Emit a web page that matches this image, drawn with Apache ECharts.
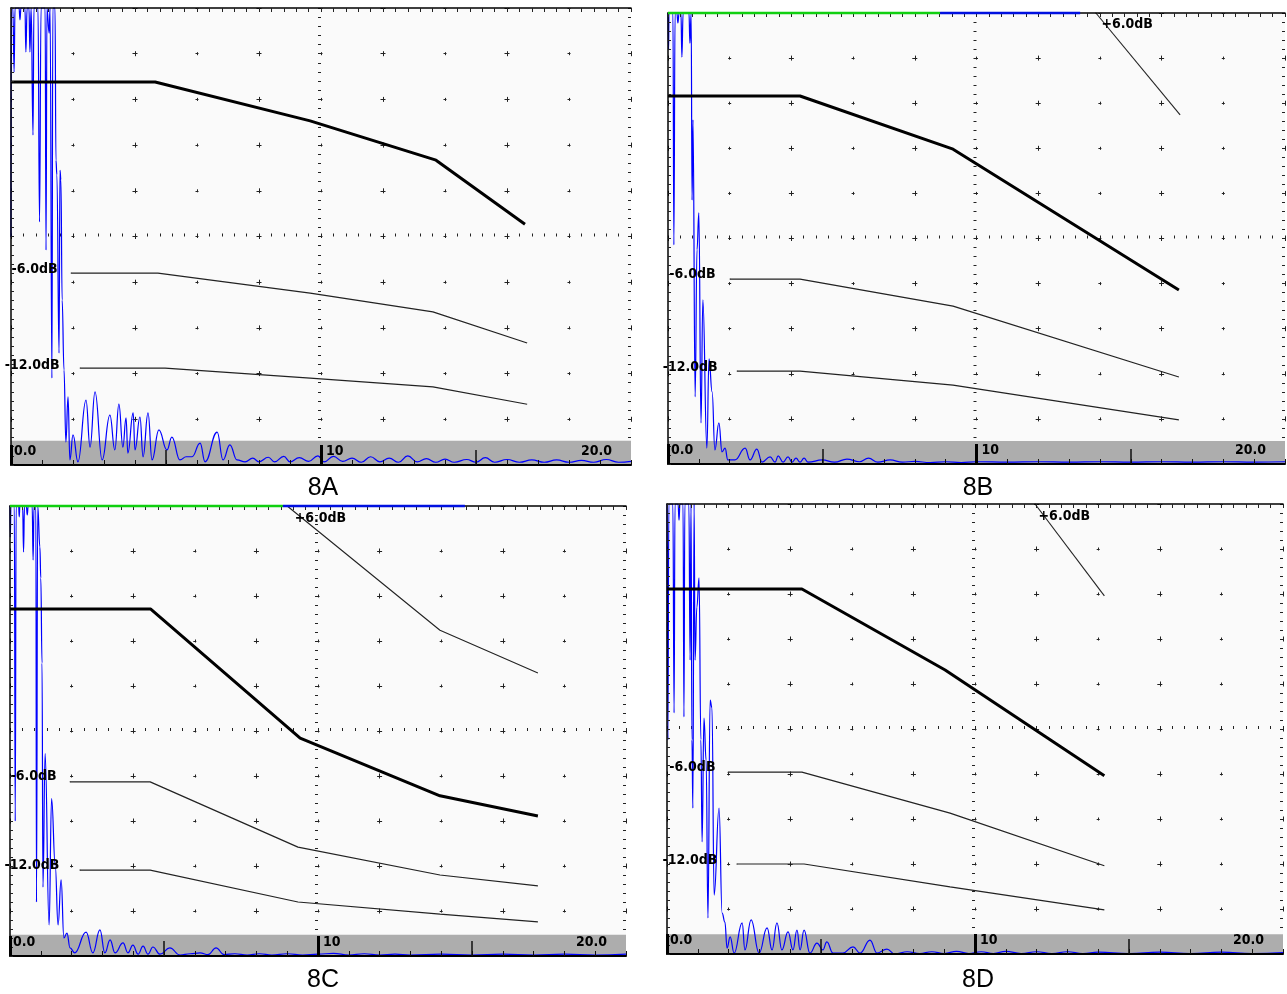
<!DOCTYPE html>
<html><head><meta charset="utf-8">
<script src="https://cdn.jsdelivr.net/npm/echarts@6/dist/echarts.min.js"></script>
<style>html,body{margin:0;padding:0;background:#fff}#c{width:1287px;height:994px}</style>
</head><body><div id="c"></div>
<script>
// ---------- DATA ----------
const panelNames = ['8A', '8B', '8C', '8D'];
const xTickLabels = ['0.0', '10', '20.0'];
const dbLabels = ['-6.0dB', '-12.0dB', '+6.0dB'];

// A-scan waveforms: [depth, amplitude %]
const waveA = [[0,49.9],[0.01,100],[0.06,100],[0.1,86],[0.13,100],[0.26,100],[0.29,97.4],[0.32,100],[0.45,100],[0.48,90.4],[0.52,100],[0.58,100],[0.61,90.4],[0.65,100],[0.71,72.2],[0.74,100],[0.87,100],[0.92,53.2],[0.97,100],[1.1,100],[1.13,47],[1.16,100],[1.23,94.5],[1.26,100],[1.32,19],[1.35,100],[1.42,100],[1.45,66.7],[1.48,63.5],[1.55,24.5],[1.58,64.5],[1.61,62.4],[1.65,36.1],[1.71,20.8],[1.77,5.0],[1.84,14.9],[1.9,1.1],[2.0,6.6],[2.16,0.7],[2.42,14.2],[2.55,3.9],[2.71,16.0],[2.94,1.1],[3.19,10.9],[3.35,3.3],[3.48,13.3],[3.61,3.9],[3.71,10.3],[3.77,2.6],[3.94,11.4],[4.0,3.3],[4.16,10.5],[4.26,1.8],[4.42,11.4],[4.55,1.1],[4.77,7.7],[5.03,3.3],[5.19,6.1],[5.45,1.1],[5.65,1.8],[5.84,1.8],[6.1,4.8],[6.26,0.7],[6.65,7.2],[6.84,1.1],[7.06,4.4],[7.29,1.1],[7.55,0.7],[7.8,1.5],[8.0,0.7],[8.3,1.7],[8.5,0.7],[8.8,1.9],[9.0,0.7],[9.3,1.6],[9.6,0.8],[9.9,2.0],[10.1,0.7],[10.4,1.9],[10.7,0.8],[11.0,1.5],[11.3,0.6],[11.6,1.8],[11.9,0.7],[12.2,1.5],[12.5,0.6],[12.8,2.0],[13.1,0.7],[13.4,1.4],[13.7,0.6],[14.0,1.3],[14.3,0.6],[14.7,1.2],[15.0,0.6],[15.3,1.6],[15.6,0.6],[16.0,1.2],[16.4,0.6],[16.8,1.1],[17.2,0.6],[17.6,1.1],[18.0,0.6],[18.4,1.0],[18.8,0.6],[19.2,1.2],[19.6,0.6],[20,0.8]];
const waveB = [[0,100],[0.02,91.8],[0.03,100],[0.16,100],[0.19,48.6],[0.23,100],[0.29,100],[0.32,97.8],[0.36,100],[0.42,100],[0.45,90.2],[0.49,100],[0.68,100],[0.71,93.3],[0.75,100],[0.78,58.5],[0.81,76.3],[0.88,14.9],[0.94,47.5],[1.0,55.7],[1.07,9.1],[1.13,36.4],[1.26,3.5],[1.33,23.3],[1.43,16.0],[1.52,3.1],[1.65,9.1],[1.75,2.7],[1.85,3.5],[1.94,0.9],[2.17,0.9],[2.5,3.5],[2.66,0.9],[2.88,3.3],[3.05,0.4],[3.31,1.6],[3.47,0.4],[3.57,1.8],[3.73,0.4],[3.89,1.6],[4.02,0.4],[4.15,1.3],[4.28,0.4],[4.41,1.3],[4.54,0.4],[5.0,0.9],[5.4,0.4],[5.8,1.1],[6.2,0.5],[6.5,1.3],[6.8,0.4],[7.2,0.9],[7.6,0.4],[8.0,0.6],[8.5,0.3],[9,0.5],[9.5,0.3],[10,0.5],[11,0.4],[12,0.5],[13,0.4],[14,0.5],[15,0.4],[16,0.5],[17,0.4],[18,0.5],[19,0.4],[20,0.5]];
const waveC = [[0,100],[0.01,93.1],[0.03,100],[0.14,100],[0.17,30],[0.2,100],[0.28,100],[0.3,97.6],[0.32,100],[0.41,100],[0.44,89.8],[0.47,100],[0.53,100],[0.56,98],[0.59,100],[0.72,100],[0.75,88],[0.78,100],[0.84,100],[0.86,12],[0.9,100],[0.97,90.9],[1.0,84],[1.04,65.1],[1.07,15.3],[1.14,45],[1.27,6.9],[1.35,35],[1.47,20],[1.56,6.9],[1.66,16.9],[1.75,4.0],[1.85,5.1],[1.95,1.8],[2.1,0.7],[2.47,5.3],[2.69,0.7],[2.92,5.8],[3.08,0.7],[3.25,3.6],[3.41,0.7],[3.67,2.9],[3.83,0.7],[3.99,2.4],[4.16,0.4],[4.32,2.2],[4.48,0.4],[4.64,2.0],[4.87,0.4],[5.19,1.8],[5.52,0.2],[5.85,0.5],[6.17,0.7],[6.43,0.3],[6.69,1.8],[6.95,0.3],[7.3,0.5],[7.7,0.2],[8.1,0.5],[8.5,0.2],[9,0.5],[9.5,0.2],[10,0.4],[10.5,0.6],[11,0.2],[11.5,0.5],[12,0.2],[12.5,0.4],[13,0.2],[14,0.4],[15,0.2],[16,0.4],[17,0.2],[18,0.4],[19,0.2],[20,0.4]];
const waveD = [[0,100],[0.03,47.6],[0.06,100],[0.19,100],[0.23,53.6],[0.26,100],[0.36,100],[0.39,96.4],[0.42,100],[0.52,100],[0.55,52.7],[0.58,100],[0.71,100],[0.75,65.3],[0.78,100],[0.81,47.6],[0.84,32.4],[0.88,100],[0.91,65.3],[0.97,77.1],[1.04,83.6],[1.1,47.6],[1.14,24.9],[1.2,52.4],[1.27,43.1],[1.33,8.0],[1.4,56.4],[1.46,54.7],[1.53,13.1],[1.69,32.4],[1.79,9.1],[1.88,7.1],[1.95,1.3],[2.05,3.8],[2.18,0.2],[2.44,6.9],[2.53,0.9],[2.73,7.6],[2.99,0.2],[3.25,5.8],[3.41,0.9],[3.57,6.9],[3.73,0.9],[3.93,4.9],[4.09,0.9],[4.22,5.3],[4.32,0.9],[4.45,5.3],[4.64,0.2],[4.87,2.4],[5.06,0.9],[5.19,2.7],[5.39,0.2],[5.71,0.2],[6.04,1.6],[6.27,0.2],[6.59,3.1],[6.82,0.2],[7.14,1.1],[7.4,0],[7.8,0.5],[8.2,0.1],[8.6,0.5],[9,0.1],[9.4,0.6],[9.8,0.1],[10.2,0.5],[10.6,0.1],[11,0.6],[11.5,0.1],[12,0.5],[12.5,0.1],[13,0.5],[13.5,0.1],[14,0.4],[15,0.1],[16,0.4],[17,0.1],[18,0.4],[19,0.1],[20,0.3]];

// DAC reference curves
const dacA = [[0,83.8],[4.65,83.8],[9.65,75.3],[13.71,66.7],[16.58,52.7]];
const m6A  = [[1.94,42.0],[4.74,42.0],[9.65,37.6],[13.61,33.5],[16.65,26.7]];
const m12A = [[2.23,21.2],[4.97,21.2],[9.65,19.0],[13.61,17.1],[16.65,13.3]];
const p6A  = [];

const dacB = [[0,81.6],[4.28,81.6],[9.24,69.8],[16.56,38.6]];
const m6B  = [[2.01,41.0],[4.28,41.0],[9.24,35.0],[16.56,19.3]];
const m12B = [[2.24,20.6],[4.28,20.6],[9.24,17.5],[16.56,9.8]];
const p6B  = [[13.87,100],[16.6,77.4]];

const dacC = [[0,77.1],[4.57,77.1],[9.42,48.4],[13.96,35.6],[17.14,31.1]];
const m6C  = [[1.95,38.7],[4.55,38.7],[9.35,24.2],[13.96,18.0],[17.14,15.6]];
const m12C = [[2.27,19.1],[4.55,19.1],[9.35,12.0],[13.96,9.3],[17.14,7.6]];
const p6C  = [[9.0,100],[13.96,72.4],[17.14,62.9]];

const dacD = [[0,81.1],[4.38,81.1],[9.03,63.1],[14.2,39.6]];
const m6D  = [[1.98,40.4],[4.38,40.4],[9.19,31.3],[14.2,19.6]];
const m12D = [[2.27,20.0],[4.45,20.0],[9.19,14.9],[14.2,9.8]];
const p6D  = [[11.95,100],[14.2,79.6]];

// gate indicator bars at the top edge
const gateGreenA = [], gateBlueA = [];
const gateGreenB = [[0,100],[8.82,100]], gateBlueB = [[8.82,100],[13.36,100]];
const gateGreenC = [[0,100],[8.86,100]], gateBlueC = [[8.86,100],[14.77,100]];
const gateGreenD = [], gateBlueD = [];

// ---------- LAYOUT / STYLE ----------
const layout = [
  {left:11, top:8, width:620, height:457, band:5.3, lx:323, ly:488, m6:[13,-4], m12:[20,-3], p6:[5,11]},
  {left:668, top:13, width:617, height:451, band:5.1, lx:978, ly:488, m6:[14,-5], m12:[19,-4], p6:[5,11]},
  {left:10, top:506, width:616, height:450, band:4.7, lx:323, ly:980, m6:[13,-5], m12:[20,-5], p6:[7,12]},
  {left:667, top:504, width:616, height:450, band:4.4, lx:978, ly:980, m6:[12,-5], m12:[19,-4], p6:[3,12]}
];
const panelData = [
  {wave:waveA, dac:dacA, m6:m6A, m12:m12A, p6:p6A, gg:gateGreenA, gb:gateBlueA},
  {wave:waveB, dac:dacB, m6:m6B, m12:m12B, p6:p6B, gg:gateGreenB, gb:gateBlueB},
  {wave:waveC, dac:dacC, m6:m6C, m12:m12C, p6:p6C, gg:gateGreenC, gb:gateBlueC},
  {wave:waveD, dac:dacD, m6:m6D, m12:m12D, p6:p6D, gg:gateGreenD, gb:gateBlueD}
];
const FONT = '"DejaVu Sans Condensed","Liberation Sans Narrow",sans-serif';
const lab = {fontFamily: FONT, fontWeight: 'bold', fontSize: 14, color: '#000'};

const grids = [], xAxes = [], yAxes = [], series = [], graphics = [];

panelData.forEach((P, i) => {
  const L = layout[i];
  grids.push({left:L.left, top:L.top, width:L.width, height:L.height, show:true,
    backgroundColor:'#fafafa', borderWidth:0, containLabel:false, outerBoundsMode:'none'});
  const xb = xAxes.length, yb = yAxes.length;
  const bx = () => ({gridIndex:i, type:'value', min:0, max:20,
    axisLabel:{show:false}, axisTick:{show:false}, axisLine:{show:false, onZero:false}, splitLine:{show:false}});
  let a = bx();
  Object.assign(a, {position:'bottom', interval:1, z:6,
    axisLine:{show:true, onZero:false, lineStyle:{color:'#000', width:2}},
    axisTick:{show:true, inside:true, length:5, lineStyle:{color:'#111', width:1}},
    axisLabel:{show:true, inside:true, margin:14, align:'left', verticalAlign:'middle', ...lab,
      formatter: v => v === 0 ? '{a|' + xTickLabels[0] + '}' : (v === 10 ? '{b|' + xTickLabels[1] + '}' : ''),
      rich:{a:{...lab, padding:[0,0,0,3]}, b:{...lab, padding:[0,0,0,5]}}}});
  xAxes.push(a);
  a = bx();
  Object.assign(a, {position:'bottom', interval:5, z:6,
    axisTick:{show:true, inside:true, length:15, customValues:[5,15], lineStyle:{color:'#111', width:1.5}}});
  xAxes.push(a);
  a = bx();
  Object.assign(a, {position:'bottom', interval:10, z:6,
    axisTick:{show:true, inside:true, length:20, customValues:[0,10], lineStyle:{color:'#000', width:3}}});
  xAxes.push(a);
  a = bx();
  Object.assign(a, {position:'bottom', interval:10, z:6,
    axisLabel:{show:true, inside:true, margin:14, align:'right', verticalAlign:'middle', ...lab,
      formatter: v => v === 20 ? '{c|' + xTickLabels[2] + '}' : '',
      rich:{c:{...lab, padding:[0,19,0,0]}}}});
  xAxes.push(a);
  a = bx();
  Object.assign(a, {position:'bottom', interval:4, z:0,
    splitLine:{show:true, lineStyle:{color:'#222', width:1, type:[5, L.height/10 - 5], dashOffset:2.5}}});
  xAxes.push(a);
  a = bx();
  Object.assign(a, {position:'bottom', interval:2, z:0,
    splitLine:{show:true, lineStyle:{color:'#222', width:1, type:[3, L.height/10 - 3], dashOffset:1.5}}});
  xAxes.push(a);
  a = bx();
  Object.assign(a, {position:'top', interval:0.4, z:6,
    axisLine:{show:true, onZero:false, lineStyle:{color:'#000', width:1.5}},
    axisTick:{show:true, inside:true, length:4, lineStyle:{color:'#222', width:1}}});
  xAxes.push(a);
  a = bx();
  Object.assign(a, {position:'top', offset:-L.height/2, interval:0.4, z:0,
    axisTick:{show:true, inside:false, length:3, lineStyle:{color:'#222', width:1}}});
  xAxes.push(a);

  const by = () => ({gridIndex:i, type:'value', min:0, max:100,
    axisLabel:{show:false}, axisTick:{show:false}, axisLine:{show:false, onZero:false}, splitLine:{show:false}});
  let b = by();
  Object.assign(b, {position:'left', interval:2, z:6,
    axisLine:{show:true, onZero:false, lineStyle:{color:'#000', width:1.5}},
    axisTick:{show:true, inside:true, length:3, lineStyle:{color:'#222', width:1}}});
  yAxes.push(b);
  b = by();
  Object.assign(b, {position:'left', interval:10, z:0,
    splitLine:{show:true, lineStyle:{color:'#222', width:1, type:[5, L.width/10 - 4, 3, L.width/10 - 4], dashOffset:2.5}}});
  yAxes.push(b);
  b = by();
  Object.assign(b, {position:'left', offset:-L.width/2, interval:2, z:0,
    axisTick:{show:true, inside:false, length:3, lineStyle:{color:'#222', width:1}}});
  yAxes.push(b);
  b = by();
  Object.assign(b, {position:'right', interval:2, z:0,
    axisTick:{show:true, inside:true, length:3, lineStyle:{color:'#222', width:1}}});
  yAxes.push(b);

  const common = {type:'line', xAxisIndex:xb, yAxisIndex:yb, animation:false, silent:true};
  series.push({...common, data:[], z:1,
    markArea:{silent:true, itemStyle:{color:'#adadad'}, data:[[{yAxis:0},{yAxis:L.band}]]}});
  series.push({...common, data:P.wave, z:2, symbol:'none', showSymbol:false,
    smooth:0.45, smoothMonotone:'x',
    lineStyle:{color:'#0000ff', width:1.2}});
  const withLabel = (arr, txt, pos, cfg) => arr.map((d, k) => k === 0 ? {value:d, symbol:'circle', symbolSize:1,
    label:{show:true, position:pos, distance:cfg[0], offset:[0, cfg[1]], formatter:txt, ...lab}} : d);
  series.push({...common, data:withLabel(P.m6, dbLabels[0], 'left', L.m6), z:3, symbol:'none', showSymbol:true,
    itemStyle:{color:'#222'}, lineStyle:{color:'#222', width:1.2}});
  series.push({...common, data:withLabel(P.m12, dbLabels[1], 'left', L.m12), z:3, symbol:'none', showSymbol:true,
    itemStyle:{color:'#222'}, lineStyle:{color:'#222', width:1.2}});
  if (P.p6.length) {
    series.push({...common, data:withLabel(P.p6, dbLabels[2], 'right', L.p6), z:3, symbol:'none', showSymbol:true,
      itemStyle:{color:'#222'}, lineStyle:{color:'#222', width:1.1}});
  }
  series.push({...common, data:P.dac, z:4, symbol:'none', showSymbol:false,
    lineStyle:{color:'#000', width:3}});
  if (P.gg.length) series.push({...common, data:P.gg, z:7, clip:false, symbol:'none', showSymbol:false,
    lineStyle:{color:'#10d010', width:2.5}});
  if (P.gb.length) series.push({...common, data:P.gb, z:7, clip:false, symbol:'none', showSymbol:false,
    lineStyle:{color:'#0010e0', width:2.5}});

  graphics.push({type:'text', x:L.lx, y:L.ly, silent:true,
    style:{text:panelNames[i], fill:'#000', font:'25px "Liberation Sans", Arial, sans-serif',
      align:'center', verticalAlign:'middle', textAlign:'center', textVerticalAlign:'middle'}});
});

const chart = echarts.init(document.getElementById('c'), null, {renderer:'canvas'});
chart.setOption({
  backgroundColor:'#ffffff',
  animation:false,
  grid:grids, xAxis:xAxes, yAxis:yAxes, series:series, graphic:graphics
});
</script>
</body></html>
